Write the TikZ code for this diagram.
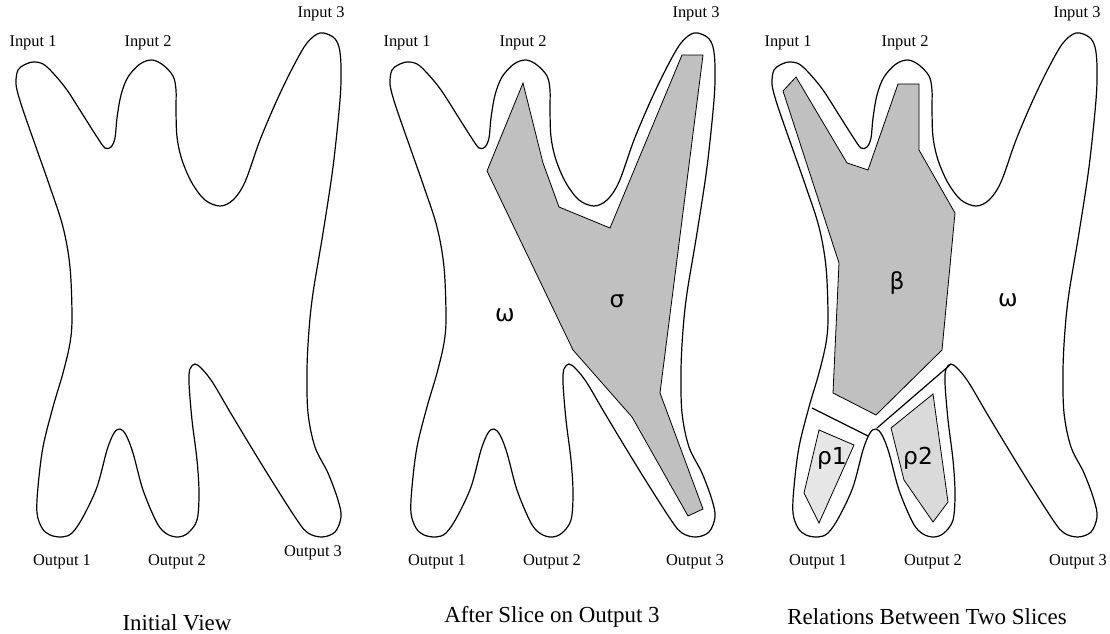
\documentclass[tikz,border=0pt]{standalone}
\usepackage{fontspec}
\setmainfont{Liberation Serif}
\newfontfamily\greekfont{DejaVu Sans}
\definecolor{sliceFill}{HTML}{C0C0C0}
\definecolor{relOneFill}{HTML}{E6E6E6}
\definecolor{relTwoFill}{HTML}{DADADA}
\tikzset{
  x=0.75pt, y=-0.75pt,
  outline/.style ={draw, line width=0.9pt, line join=round},
  slice/.style   ={draw, line width=0.6pt, fill=sliceFill},
  relone/.style  ={slice, fill=relOneFill},
  reltwo/.style  ={slice, fill=relTwoFill},
  cut/.style     ={line width=0.9pt},
  port/.style    ={font=\fontsize{12.3}{14}\selectfont, inner sep=0pt},
  caption/.style ={font=\fontsize{17.2}{20}\selectfont, inner sep=0pt},
  greek/.style   ={font=\greekfont\fontsize{17.5}{20}\selectfont, inner sep=0pt},
  body/.pic={
    \draw[outline] plot[smooth cycle, tension=0.55] coordinates {
      (33,62) (43,64) (53,73) (67,90) (83,115) (97,137) (105,148) (111,147)
      (115,138) (117,118) (121,95) (128,77) (140,64) (152,60) (163,65) (173,76)
      (176,90) (176,110) (177,137) (182,160) (192,183) (205,200) (220,206)
      (233,200) (245,182) (260,140) (277,100) (293,67) (307,43) (320,33)
      (333,37) (339,47) (341,67) (340,100) (333,167) (323,233) (313,293)
      (309,330) (307,370) (308,413) (315,447) (328,473) (338,500) (341,517)
      (335,532) (322,537) (308,533) (297,520) (267,473) (233,417) (213,383)
      (202,369) (195,364) (190,369) (189,383) (192,420) (197,460) (199,493)
      (197,520) (188,533) (178,537) (167,534) (157,523) (143,490) (133,453)
      (126,435) (120,429) (114,433) (107,450) (97,487) (83,517) (72,533)
      (62,537) (50,535) (42,528) (37,513) (38,487) (43,447) (53,407) (63,373)
      (70,343) (72,317) (70,267) (63,227) (50,187) (37,150) (23,110) (17,90)
      (16,80) (18,70) (24,65)};
  },
}

\begin{document}
\begin{tikzpicture}
  \useasboundingbox (0,0) rectangle (1110,634);

  % panel 1: the program before any slice
  \begin{scope}
    \pic {body};
    \node[port] (inA1)  at (33,43)   {Input 1};
    \node[port] (inA2)  at (148,43)  {Input 2};
    \node[port] (inA3)  at (321,14)  {Input 3};
    \node[port] (outA1) at (62,562)  {Output 1};
    \node[port] (outA2) at (177,562) {Output 2};
    \node[port] (outA3) at (313,553) {Output 3};
    \node[caption] (capA) at (177,623) {Initial View};
  \end{scope}

  % panel 2: slice taken on output 3
  \begin{scope}[shift={(374,0)}]
    \pic {body};
    \draw[slice] (149,83) -- (113,171) -- (199,350) -- (258,417) -- (314,516)
      -- (329,509) -- (286,393) -- (329,55) -- (308,55) -- (236,228)
      -- (185,207) -- (169,163) -- cycle;
    \node[greek] (sigma) at (243,301) {σ};
    \node[greek] (omegaB) at (131,315) {ω};
    \node[port] (inB1)  at (33,43)   {Input 1};
    \node[port] (inB2)  at (149,43)  {Input 2};
    \node[port] (inB3)  at (322,14)  {Input 3};
    \node[port] (outB1) at (63,562)  {Output 1};
    \node[port] (outB2) at (178,562) {Output 2};
    \node[port] (outB3) at (321,562) {Output 3};
    \node[caption] (capB) at (178,617) {After Slice on Output 3};
  \end{scope}

  % panel 3: two slices and how they overlap
  \begin{scope}[shift={(756,0)}]
    \pic {body};
    \draw[slice] (27,91) -- (40,77) -- (91,163) -- (112,170) -- (142,84)
      -- (163,84) -- (163,150) -- (199,213) -- (186,350) -- (120,415)
      -- (77,393) -- (83,263) -- cycle;
    \draw[relone] (63,430) -- (98,445) -- (63,523) -- (48,493) -- cycle;
    \draw[reltwo] (135,428) -- (177,394) -- (192,502) -- (177,522)
      -- (148,480) -- cycle;
    \draw[cut] (56,408) -- (112,436);
    \draw[cut] (121,428) -- (194,365);
    \node[greek] (beta)   at (141,283) {β};
    \node[greek] (omegaC) at (252,300) {ω};
    \node[greek] (rhoA)   at (76,458)  {ρ1};
    \node[greek] (rhoB)   at (162,458) {ρ2};
    \node[port] (inC1)  at (32,43)   {Input 1};
    \node[port] (inC2)  at (149,43)  {Input 2};
    \node[port] (inC3)  at (321,14)  {Input 3};
    \node[port] (outC1) at (62,562)  {Output 1};
    \node[port] (outC2) at (177,562) {Output 2};
    \node[port] (outC3) at (322,562) {Output 3};
    \node[caption] (capC) at (171,617) {Relations Between Two Slices};
  \end{scope}
\end{tikzpicture}
\end{document}
